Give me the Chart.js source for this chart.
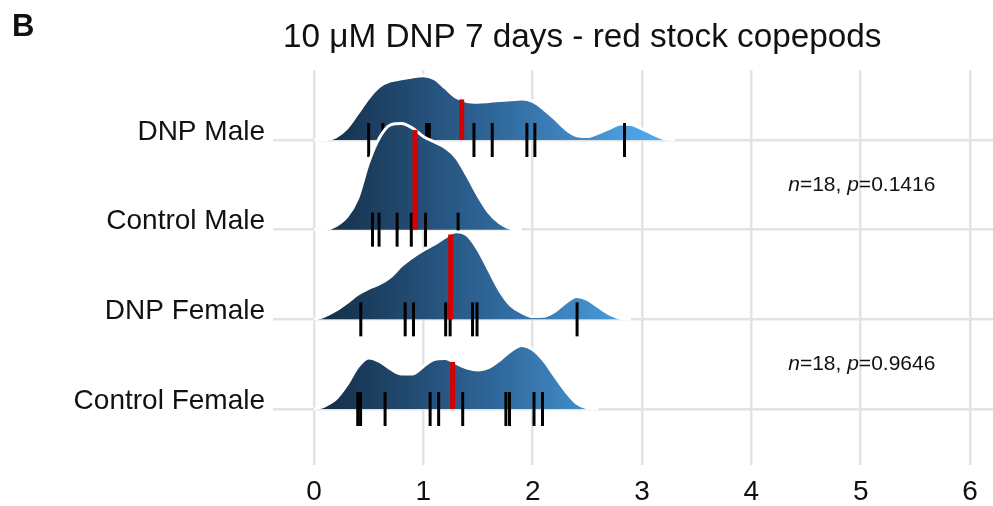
<!DOCTYPE html>
<html>
<head>
<meta charset="utf-8">
<script src="https://cdn.jsdelivr.net/npm/chart.js@4.4.1/dist/chart.umd.min.js"></script>
<style>
  html, body { margin: 0; padding: 0; background: #fff; }
</style>
</head>
<body>
<canvas id="ridges" width="993" height="506"></canvas>
<script>
// groups from bottom row to top row, the baseline of each ridge sits at its index
var groups = ['Control Female', 'DNP Female', 'Control Male', 'DNP Male'];

// x grid of the density estimates
var densityX = [0, 0.1, 0.2, 0.3, 0.4, 0.5, 0.6, 0.7, 0.8, 0.9, 1.0, 1.1, 1.2, 1.3, 1.4, 1.5, 1.6,
                1.7, 1.8, 1.9, 2.0, 2.1, 2.2, 2.3, 2.4, 2.5, 2.6, 2.7, 2.8, 2.9, 3.0, 3.1, 3.2, 3.3];

// ridge heights (in row units) on the grid above
var densControlFemale = [0, .036, .112, .268, .469, .570, .531, .447, .391, .391, .475, .553, .562, .508, .458, .436,
                         .464, .547, .648, .707, .665, .542, .369, .201, .067, .011, 0];
var densDnpFemale = [0, .039, .101, .184, .279, .346, .397, .475, .598, .693, .771, .838, .916, .978, .939, .777,
                     .547, .318, .156, .078, .031, .034, .089, .184, .255, .223, .140, .061, .013, 0];
var densControlMale = [0, .003, .045, .143, .352, .749, 1.028, 1.169, 1.184, 1.134, 1.039, .978, .916, .804, .603,
                       .380, .190, .073, .013, 0];
var densDnpMale = [0, .003, .034, .131, .296, .469, .598, .659, .682, .704, .718, .684, .581, .477, .430, .422,
                   .431, .440, .450, .458, .430, .346, .240, .123, .050, .039, .078, .128, .179, .173, .123, .067, .017, 0];

// individual observations (rug)
var rugControlFemale = [0.40, 0.426, 0.65, 1.062, 1.14, 1.36, 1.755, 1.788, 2.012, 2.09];
var rugDnpFemale = [0.428, 0.834, 0.91, 1.204, 1.245, 1.45, 1.491, 2.406];
var rugControlMale = [0.535, 0.595, 0.76, 0.89, 1.02, 1.318];
var rugDnpMale = [0.50, 0.63, 1.03, 1.055, 1.463, 1.63, 1.947, 2.02, 2.84];

// medians, same order as groups
var medians = [1.268, 1.25, 0.924, 1.351];

var xTicks = [0, 1, 2, 3, 4, 5, 6];

// test results printed between the pairs
var statN = [18, 18];
var statP = ['0.1416', '0.9646'];
var statX = [5.01, 5.01];
var statY = [2.5, 0.5];

var densities = [densControlFemale, densDnpFemale, densControlMale, densDnpMale];
var rugs = [rugControlFemale, rugDnpFemale, rugControlMale, rugDnpMale];

var FONT = "'Liberation Sans', Arial, Helvetica, sans-serif";
Chart.defaults.font.family = FONT;

function heightAt(dens, v) {
    for (var i = 0; i < dens.length - 1; i++) {
        if (v >= densityX[i] && v <= densityX[i + 1]) {
            var t = (v - densityX[i]) / (densityX[i + 1] - densityX[i]);
            return dens[i] + t * (dens[i + 1] - dens[i]);
        }
    }
    return 0;
}

function ridgeFill(ctx) {
    var chart = ctx.chart;
    if (!chart.chartArea) return '#2f679a';
    var xs = chart.scales.x;
    var g = chart.ctx.createLinearGradient(xs.getPixelForValue(0), 0, xs.getPixelForValue(3.3), 0);
    g.addColorStop(0, '#132B43');
    g.addColorStop(0.5, '#2f679a');
    g.addColorStop(1, '#56B1F7');
    return g;
}

var datasets = [];
// top row drawn first so lower ridges overlap it
for (var g = groups.length - 1; g >= 0; g--) {
    var step = (groups.length - 1 - g) * 3;
    var dens = densities[g];
    datasets.push({
        type: 'line',
        label: groups[g],
        data: dens.map(function(h, i) { return { x: densityX[i], y: g + h }; }),
        fill: { value: g },
        backgroundColor: ridgeFill,
        borderColor: '#ffffff',
        borderWidth: 3,
        cubicInterpolationMode: 'monotone',
        pointRadius: 0,
        order: 100 - step
    });
    datasets.push({
        type: 'scatter',
        label: groups[g] + ' obs',
        data: rugs[g].map(function(v) { return { x: v, y: g }; }),
        pointStyle: 'line',
        rotation: 90,
        pointRadius: 17,
        pointBorderWidth: 3,
        pointBorderColor: '#000000',
        order: 99 - step
    });
    datasets.push({
        type: 'line',
        label: groups[g] + ' median',
        data: [{ x: medians[g], y: g }, { x: medians[g], y: g + heightAt(dens, medians[g]) }],
        borderColor: '#d40000',
        borderWidth: 5,
        borderCapStyle: 'butt',
        pointRadius: 0,
        fill: false,
        order: 98 - step
    });
}

var textLayer = {
    id: 'textLayer',
    afterDraw: function(chart) {
        var c = chart.ctx;
        c.save();
        c.fillStyle = '#111111';
        c.textBaseline = 'alphabetic';
        c.textAlign = 'left';
        c.font = 'bold 31px ' + FONT;
        c.fillText('B', 12, 36);
        c.font = '33.3px ' + FONT;
        c.fillText('10 \u03BCM DNP 7 days - red stock copepods', 283, 47);

        // n / p labels, n and p in italics
        c.textBaseline = 'middle';
        for (var i = 0; i < statP.length; i++) {
            var parts = [['n', true], ['=' + statN[i] + ', ', false], ['p', true], ['=' + statP[i], false]];
            var w = 0;
            parts.forEach(function(p) {
                c.font = (p[1] ? 'italic ' : '') + '21px ' + FONT;
                w += c.measureText(p[0]).width;
            });
            var x = chart.scales.x.getPixelForValue(statX[i]) - w / 2;
            var y = chart.scales.y.getPixelForValue(statY[i]);
            parts.forEach(function(p) {
                c.font = (p[1] ? 'italic ' : '') + '21px ' + FONT;
                c.fillText(p[0], x, y);
                x += c.measureText(p[0]).width;
            });
        }
        c.restore();
    }
};

new Chart(document.getElementById('ridges'), {
    type: 'line',
    data: { datasets: datasets },
    options: {
        responsive: false,
        animation: false,
        events: [],
        layout: { autoPadding: false, padding: { top: 70, left: 0, right: 0, bottom: 0 } },
        plugins: { legend: { display: false }, tooltip: { enabled: false } },
        scales: {
            x: {
                type: 'linear',
                min: -0.375,
                max: 6.21,
                afterBuildTicks: function(scale) {
                    scale.ticks = xTicks.map(function(v) { return { value: v }; });
                },
                afterFit: function(scale) {
                    scale.height = 41;
                    scale.paddingLeft = 0;
                    scale.paddingRight = 0;
                },
                grid: { color: '#e3e3e3', lineWidth: 2.5, drawTicks: false },
                border: { display: false },
                ticks: {
                    color: '#111111',
                    font: { size: 28 },
                    padding: 10,
                    maxRotation: 0,
                    callback: function(v) { return v; }
                }
            },
            y: {
                type: 'linear',
                min: -0.6245,
                max: 3.781,
                afterBuildTicks: function(scale) {
                    scale.ticks = groups.map(function(n, i) { return { value: i }; });
                },
                afterFit: function(scale) {
                    scale.width = 273;
                    scale.paddingTop = 0;
                    scale.paddingBottom = 0;
                },
                grid: { color: '#e3e3e3', lineWidth: 2.5, drawTicks: false },
                border: { display: false },
                ticks: {
                    color: '#111111',
                    font: { size: 28 },
                    padding: 8,
                    labelOffset: -8,
                    callback: function(v) { return groups[v]; }
                }
            }
        }
    },
    plugins: [textLayer]
});
</script>
</body>
</html>
